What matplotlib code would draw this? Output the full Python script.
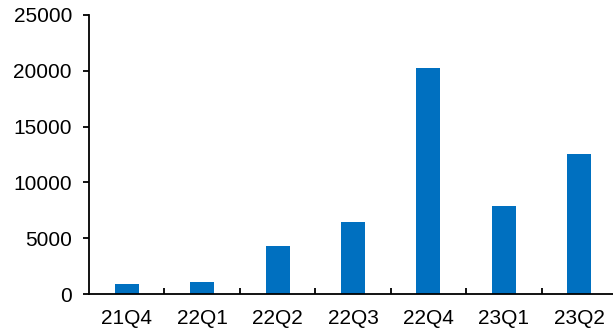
import numpy as np
import matplotlib.pyplot as plt

plt.rcParams['font.family'] = ['Liberation Sans', 'DejaVu Sans']

quarters = ['21Q4', '22Q1', '22Q2', '22Q3', '22Q4', '23Q1', '23Q2']
values = [900, 1080, 4330, 6450, 20250, 7900, 12550]

fig = plt.figure(figsize=(6.13, 3.29), dpi=100)
# plot area runs a little past the right edge of the picture
ax = fig.add_axes([89 / 613, 1 - 294 / 329, 528 / 613, (294 - 15) / 329])

x = np.arange(len(quarters))
ax.bar(x, values, width=0.32, color='#0070C0')

ax.set_xlim(-0.5, len(quarters) - 0.5)
ax.set_ylim(0, 25000)
ax.set_yticks(np.arange(0, 25001, 5000))

# category labels centred, tick marks on the boundaries
ax.set_xticks(x)
ax.set_xticklabels(quarters)
ax.tick_params(axis='x', which='major', length=0, pad=10.5, labelsize=15)
ax.set_xticks(np.arange(0.5, len(quarters) - 0.5, 1), minor=True)
ax.tick_params(axis='x', which='minor', direction='in', length=4, width=1.3)
ax.tick_params(axis='y', direction='out', length=4.3, width=1.3, labelsize=15, pad=8)

for s in ['top', 'right']:
    ax.spines[s].set_visible(False)
for s in ['left', 'bottom']:
    ax.spines[s].set_linewidth(1.3)

plt.savefig('out.png', dpi=100)
